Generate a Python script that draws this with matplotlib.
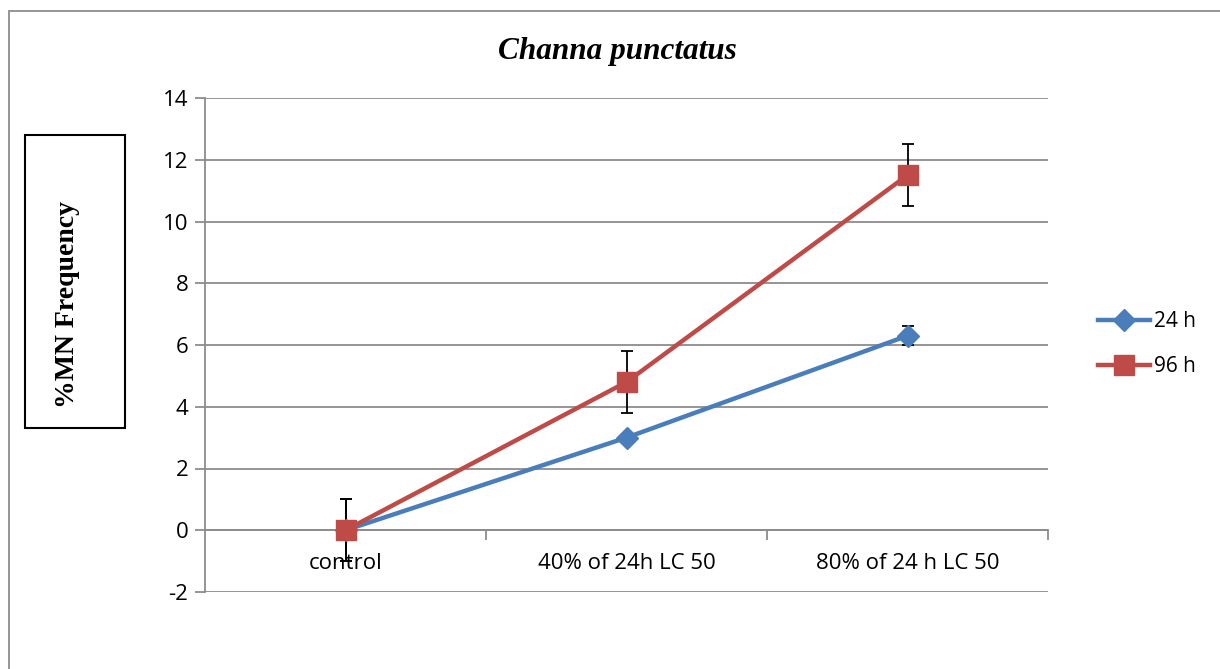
import matplotlib.pyplot as plt
from matplotlib.patches import Rectangle

plt.rcParams['axes.unicode_minus'] = False

categories = ['control', '40% of 24h LC 50', '80% of 24 h LC 50']
h24 = [0, 3, 6.3]
h24_err = [1, 0, 0.3]
h96 = [0, 4.8, 11.5]
h96_err = [1, 1, 1]
yticks = [-2, 0, 2, 4, 6, 8, 10, 12, 14]

blue = '#4A7EBB'
red = '#BE4B48'
grid_c = '#8C8C8C'

fig = plt.figure(figsize=(12.2, 6.69), dpi=100)
ax = fig.add_axes([205/1220, 1 - 592/669, (1048-205)/1220, (592-98)/669])

x = list(range(len(categories)))

# error bars
ax.errorbar(x, h96, yerr=h96_err, fmt='none', ecolor='black', elinewidth=1.3,
            capsize=4.5, capthick=1.3, zorder=2)
ax.errorbar(x, h24, yerr=h24_err, fmt='none', ecolor='black', elinewidth=1.3,
            capsize=4.5, capthick=1.3, zorder=2)

ax.plot(x, h24, color=blue, lw=3.2, marker='D', markersize=11, label='24 h', zorder=3)
ax.plot(x, h96, color=red, lw=3.2, marker='s', markersize=14, label='96 h', zorder=4)

ax.set_xlim(-0.5, 2.5)
ax.set_ylim(-2, 14)
ax.set_yticks(yticks)
ax.grid(axis='y', color=grid_c, lw=1.3)
ax.set_axisbelow(True)

for s in ['top', 'right']:
    ax.spines[s].set_visible(False)
ax.spines['left'].set_color(grid_c)
ax.spines['left'].set_linewidth(1.3)
ax.spines['bottom'].set_position(('data', 0))
ax.spines['bottom'].set_color(grid_c)
ax.spines['bottom'].set_linewidth(1.3)

# category tick marks at boundaries, labels centered
ax.set_xticks([0.5, 1.5, 2.5])
ax.set_xticklabels([])
ax.tick_params(axis='x', direction='out', length=7, color=grid_c, width=1.3)
ax.tick_params(axis='y', direction='out', length=7, color=grid_c, width=1.3,
               labelsize=16, pad=5)
for i, c in enumerate(categories):
    ax.text(i, -1.08, c, ha='center', va='center', fontsize=16, family='Open Sans')
for lbl in ax.get_yticklabels():
    lbl.set_family('Open Sans')

fig.text(617/1220, 1 - 52/669, 'Channa punctatus', ha='center', va='center',
         fontsize=22.5, style='italic', weight='bold', family='Liberation Serif')

# y label box
fig.patches.append(Rectangle((25/1220, 1 - 428/669), 100/1220, 293/669,
                             transform=fig.transFigure, fill=False,
                             edgecolor='black', lw=1.5))
fig.text(67/1220, 1 - 304/669, '%MN Frequency', rotation=90, ha='center', va='center',
         fontsize=20, weight='bold', family='Liberation Serif')

# outer frame
fig.patches.append(Rectangle((9/1220, -0.05), 1.2, 1 - 11/669 + 0.05,
                             transform=fig.transFigure, fill=False,
                             edgecolor='#8C8C8C', lw=1.3))

leg = fig.legend(loc='center left', bbox_to_anchor=(1090/1220, 1 - 344/669),
                 frameon=False, handlelength=2.5, labelspacing=1.15,
                 borderaxespad=0, handletextpad=0.15,
                 prop={'family': 'Open Sans', 'size': 15})

fig.savefig('out.png', dpi=100, facecolor='white')
